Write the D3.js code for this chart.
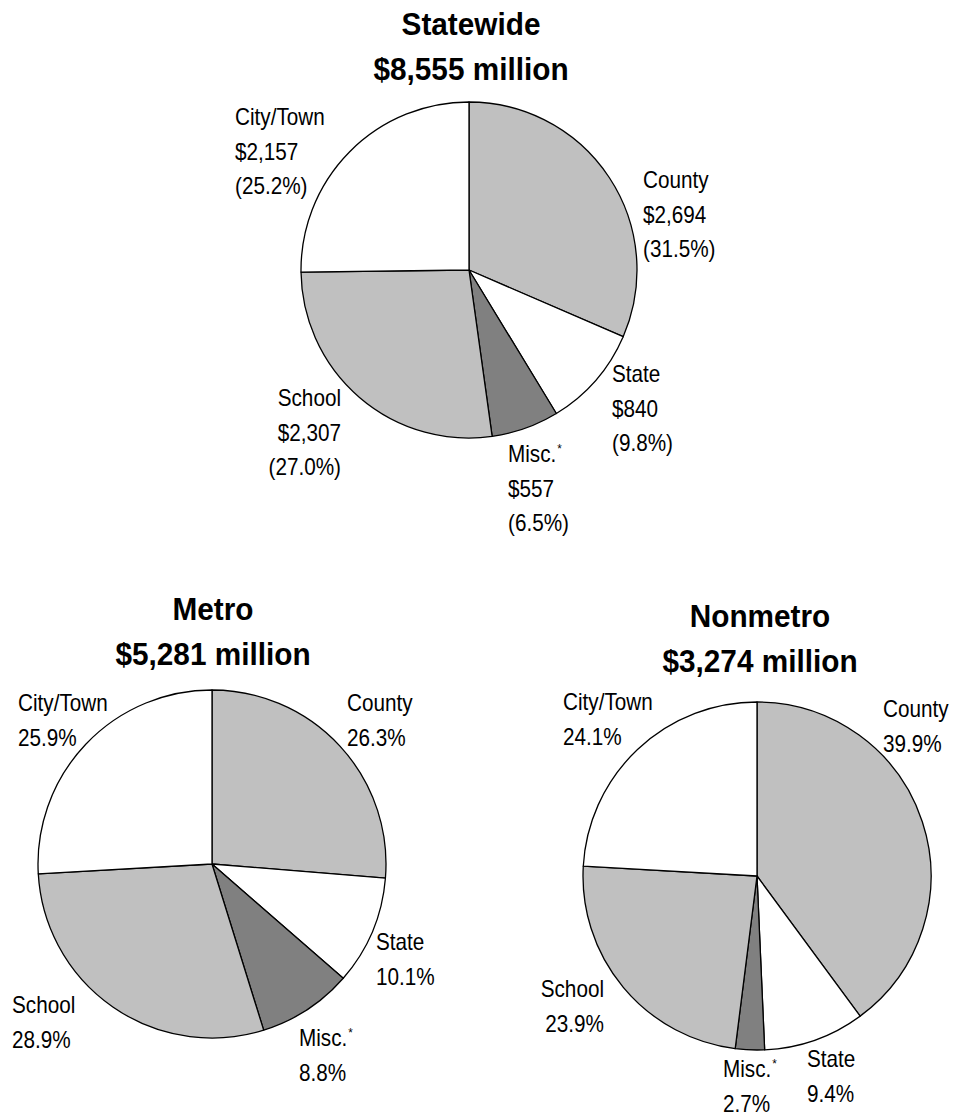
<!DOCTYPE html>
<html>
<head>
<meta charset="utf-8">
<script src="https://cdn.jsdelivr.net/npm/d3@7"></script>
<style>
  body { margin: 0; background: #fff; }
  text { font-family: "Liberation Sans", Arial, sans-serif; fill: #000; }
</style>
</head>
<body>
<script>
// data
var categories = ["County", "State", "Misc.", "School", "City/Town"];
var statewideDollars = [2694, 840, 557, 2307, 2157];
var statewidePct = [31.5, 9.8, 6.5, 27.0, 25.2];
var metroPct = [26.3, 10.1, 8.8, 28.9, 25.9];
var nonmetroPct = [39.9, 9.4, 2.7, 23.9, 24.1];
var chartNames = ["Statewide", "Metro", "Nonmetro"];
var chartTotals = [8555, 5281, 3274];

var sliceColors = ["#c0c0c0", "#ffffff", "#808080", "#c0c0c0", "#ffffff"];

// layout: centre, radius, title position, label anchor points (first baseline)
var charts = [
	{ name: chartNames[0], total: chartTotals[0], pct: statewidePct, dollars: statewideDollars,
	  cx: 469, cy: 270, r: 168, tx: 471, ty: 35,
	  labels: [[643, 188, "start"], [612, 382, "start"], [508, 462, "start"], [341, 406, "end"], [235, 125, "start"]] },
	{ name: chartNames[1], total: chartTotals[1], pct: metroPct, dollars: null,
	  cx: 212, cy: 864, r: 174, tx: 213, ty: 620,
	  labels: [[347, 711, "start"], [376, 950, "start"], [299, 1046, "start"], [12, 1013, "start"], [18, 711, "start"]] },
	{ name: chartNames[2], total: chartTotals[2], pct: nonmetroPct, dollars: null,
	  cx: 757, cy: 876, r: 174, tx: 760, ty: 627,
	  labels: [[883, 717, "start"], [807, 1067, "start"], [723, 1077, "start"], [604, 997, "end"], [563, 710, "start"]] }
];

var lineGap = 34.5;
var labelScale = 0.9;
var titleScale = 0.93;
var fmt = d3.format(",");

var svg = d3.select("body").append("svg")
	.attr("width", 956)
	.attr("height", 1116);

var pie = d3.pie().sort(null).value(function(d) { return d; });

charts.forEach(function(c) {
	var arc = d3.arc().innerRadius(0).outerRadius(c.r);
	var g = svg.append("g").attr("transform", "translate(" + c.cx + "," + c.cy + ")");
	g.selectAll("path")
		.data(pie(c.pct))
		.enter()
		.append("path")
		.attr("d", arc)
		.style("fill", function(d, i) { return sliceColors[i]; })
		.style("stroke", "#000")
		.style("stroke-width", "1.3")
		.style("stroke-linejoin", "round");

	// title
	var titleLines = [c.name, "$" + fmt(c.total) + " million"];
	titleLines.forEach(function(t, k) {
		svg.append("text")
			.attr("transform", "translate(" + c.tx + "," + (c.ty + k * 44.5) + ") scale(" + titleScale + ",1)")
			.attr("text-anchor", "middle")
			.style("font-size", "32px")
			.style("font-weight", "bold")
			.text(t);
	});

	// slice labels
	categories.forEach(function(cat, i) {
		var pos = c.labels[i];
		var lines = [cat];
		if (c.dollars) {
			lines.push("$" + fmt(c.dollars[i]));
			lines.push("(" + c.pct[i].toFixed(1) + "%)");
		} else {
			lines.push(c.pct[i].toFixed(1) + "%");
		}
		lines.forEach(function(l, k) {
			var t = svg.append("text")
				.attr("transform", "translate(" + pos[0] + "," + (pos[1] + k * lineGap) + ") scale(" + labelScale + ",1)")
				.attr("text-anchor", pos[2])
				.style("font-size", "23px")
				.text(l);
			if (k == 0 && cat == "Misc.") {
				t.append("tspan")
					.attr("dy", -9)
					.attr("dx", 1)
					.style("font-size", "13px")
					.text("*");
			}
		});
	});
});
</script>
</body>
</html>
